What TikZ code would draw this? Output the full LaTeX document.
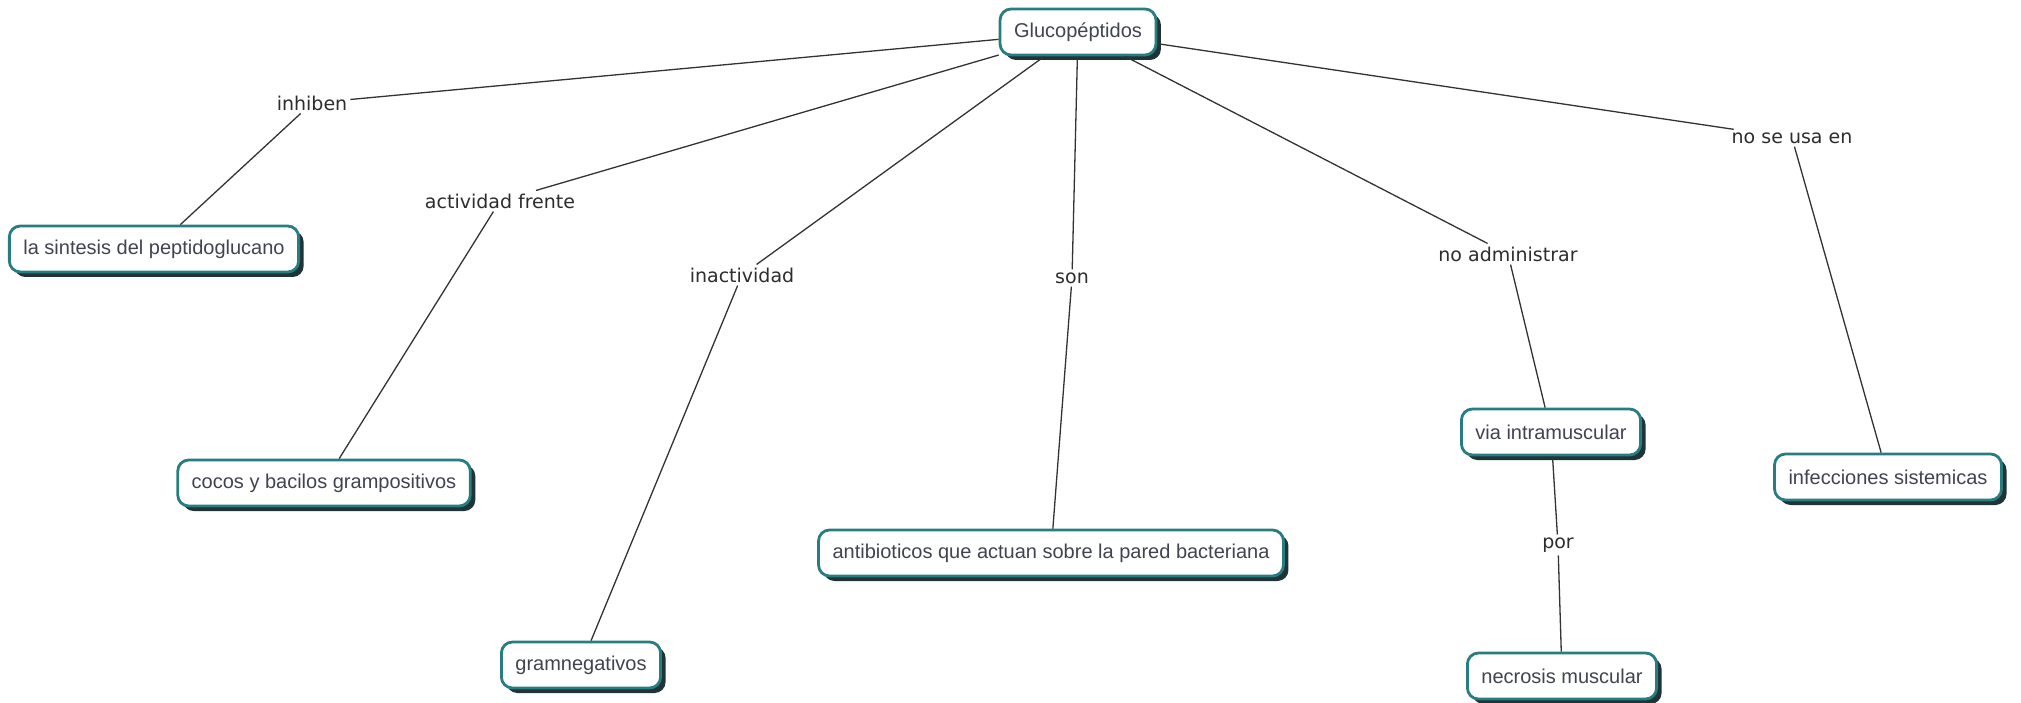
\documentclass[tikz,border=0pt]{standalone}
\usepackage{fontspec}
\setmainfont{Liberation Sans}
\newfontfamily\linkfont{DejaVu Sans}
\usetikzlibrary{shadows}
\definecolor{cborder}{RGB}{40,125,128}
\definecolor{cshadow}{RGB}{30,52,55}
\definecolor{ctext}{RGB}{65,68,80}
\definecolor{ltext}{RGB}{45,45,45}
\tikzset{
  concept/.style={draw=cborder, line width=2.8pt, rounded corners=11pt, fill=white,
    inner xsep=14pt, minimum height=46pt, text=ctext,
    font=\fontsize{20}{23}\selectfont,
    drop shadow={shadow xshift=5pt, shadow yshift=-5pt, fill=cshadow, opacity=1}},
  linkph/.style={inner sep=3pt, text=ltext, font=\linkfont\fontsize{19}{22}\selectfont, fill=white},
  conn/.style={line width=1.3pt, draw=black!80}
}
\begin{document}
\begin{tikzpicture}[x=1pt,y=-1pt]
\useasboundingbox[fill=white] (0,0) rectangle (2021,703);
% linking phrases
\node[linkph] (inhiben) at (312,103) {inhiben};
\node[linkph] (actfr) at (500,201) {actividad frente};
\node[linkph] (inact) at (742,275) {inactividad};
\node[linkph] (son) at (1072,278) {son};
\node[linkph] (noadm) at (1508,254) {no administrar};
\node[linkph] (nose) at (1792,138) {no se usa en};
\node[linkph] (por) at (1558,545) {por};
% concepts
\node[concept] (gluco) at (1078,32) {Glucopéptidos};
\node[concept] (sint) at (154,249) {la sintesis del peptidoglucano};
\node[concept] (cocos) at (324,483) {cocos y bacilos grampositivos};
\node[concept] (anti) at (1051,553) {antibioticos que actuan sobre la pared bacteriana};
\node[concept] (gram) at (581,665) {gramnegativos};
\node[concept] (via) at (1551,432) {via intramuscular};
\node[concept] (necro) at (1562,676) {necrosis muscular};
\node[concept] (infec) at (1888,477) {infecciones sistemicas};
% connectors
\draw[conn] (gluco) -- (inhiben);
\draw[conn] (inhiben) -- (sint);
\draw[conn] (gluco) -- (actfr);
\draw[conn] (actfr) -- (cocos);
\draw[conn] (gluco) -- (inact);
\draw[conn] (inact) -- (gram);
\draw[conn] (gluco) -- (son);
\draw[conn] (son) -- (anti);
\draw[conn] (gluco) -- (noadm);
\draw[conn] (noadm) -- (via);
\draw[conn] (via) -- (por);
\draw[conn] (por) -- (necro);
\draw[conn] (gluco) -- (nose);
\draw[conn] (nose) -- (infec);
\end{tikzpicture}
\end{document}
